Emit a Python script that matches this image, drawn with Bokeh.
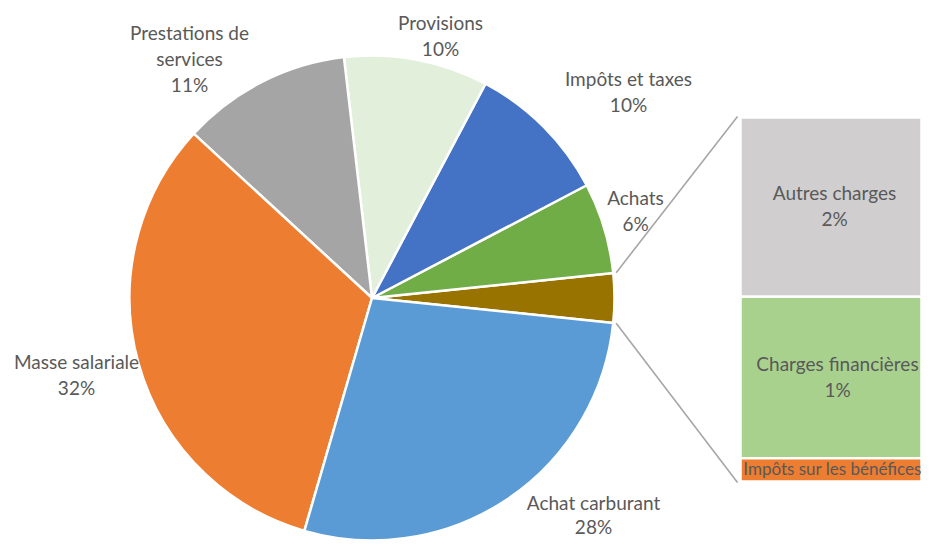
import numpy as np
from bokeh.plotting import figure
from bokeh.models import Range1d, ColumnDataSource
from bokeh.core.properties import value
from bokeh.embed import file_html
from bokeh.resources import INLINE

# ---------------- data ----------------
main_labels = ["Achats", "Impôts et taxes", "Provisions", "Prestations de services",
               "Masse salariale", "Achat carburant"]
main_values = [6.05, 9.55, 9.6, 11.3, 32.35, 27.85]
main_colors = ["#70AD47", "#4472C4", "#E2EFDA", "#A5A5A5", "#ED7D31", "#5B9BD5"]

other_labels = ["Autres charges", "Charges financières", "Impôts sur les bénéfices"]
other_values = [1.62, 1.46, 0.21]
other_colors = ["#D0CECE", "#A9D18E", "#ED7D31"]
other_color_pie = "#997300"
other_show_pct = [True, True, False]

# ---------------- layout ----------------
W, H = 930, 543
def sx(x):
    return x
def sy(y):
    return H - y

cx, cy, R = sx(371.5), sy(297.5), 242.5
bar_left, bar_right = sx(740), sx(921)
bar_top, bar_bottom = sy(117), sy(481)
TXT = "#595959"
FONT = value("Lato")
FS = "19px"
LINE_SP = 26

p = figure(width=W, height=H, output_backend="svg", toolbar_location=None,
           x_range=Range1d(0, W), y_range=Range1d(0, H), min_border=0)
p.axis.visible = False
p.grid.visible = False
p.outline_line_color = None
p.background_fill_color = "white"
p.border_fill_color = "white"

total = sum(main_values) + sum(other_values)
other_total = sum(other_values)
fr_other = other_total / total
vals = [other_total] + main_values
cols = [other_color_pie] + main_colors
fracs = np.array(vals) / total
ends = np.cumsum(fracs) * 2 * np.pi - fr_other * np.pi
starts = ends - fracs * 2 * np.pi

p.wedge(x=cx, y=cy, radius=R, start_angle=starts, end_angle=ends,
        fill_color=cols, line_color="white", line_width=2.5)

# connector lines
a0, a1 = starts[0], ends[0]
rr = R + 3
p.line([cx + rr * np.cos(a1), bar_left - 3], [cy + rr * np.sin(a1), bar_top + 1],
       line_color="#A6A6A6", line_width=1.6)
p.line([cx + rr * np.cos(a0), bar_left - 3], [cy + rr * np.sin(a0), bar_bottom - 1],
       line_color="#A6A6A6", line_width=1.6)

# stacked bar of "other" (top to bottom)
k = (bar_top - bar_bottom) / other_total
tops, bots = [], []
cur = bar_top
for v in other_values:
    tops.append(cur)
    cur -= v * k
    bots.append(cur)
p.quad(left=bar_left, right=bar_right, top=tops, bottom=bots,
       fill_color=other_colors, line_color="white", line_width=2.5)

# ---------------- labels ----------------
label_pos = {
    "Prestations de services": (189, 32, ["Prestations de", "services"], FS, LINE_SP),
    "Provisions": (440, 22, None, FS, LINE_SP),
    "Impôts et taxes": (628, 78, None, FS, LINE_SP),
    "Achats": (635, 197, None, FS, LINE_SP),
    "Masse salariale": (76, 361, None, FS, LINE_SP),
    "Achat carburant": (593, 502, None, FS, 24),
    "Autres charges": (834, 192, None, FS, LINE_SP),
    "Charges financières": (837, 363, None, FS, LINE_SP),
    "Impôts sur les bénéfices": (832, 468, None, "17px", LINE_SP),
}

rows = {}
def add_label(name, v, show_pct=True):
    x, y, lines, fs, sp = label_pos[name]
    lines = list(lines) if lines else [name]
    if show_pct:
        lines.append(f"{round(v / total * 100):.0f}%")
    d = rows.setdefault(fs, dict(x=[], y=[], text=[]))
    for i, ln in enumerate(lines):
        d["x"].append(sx(x))
        d["y"].append(sy(y + i * sp))
        d["text"].append(ln)

for n, v in zip(main_labels, main_values):
    add_label(n, v)
for n, v, s in zip(other_labels, other_values, other_show_pct):
    add_label(n, v, s)

for fs, d in rows.items():
    p.text(x="x", y="y", text="text", source=ColumnDataSource(d), text_align="center",
           text_baseline="middle", text_font=FONT, text_font_size=fs, text_color=TXT)

open("out.html", "w").write(file_html(p, INLINE))
